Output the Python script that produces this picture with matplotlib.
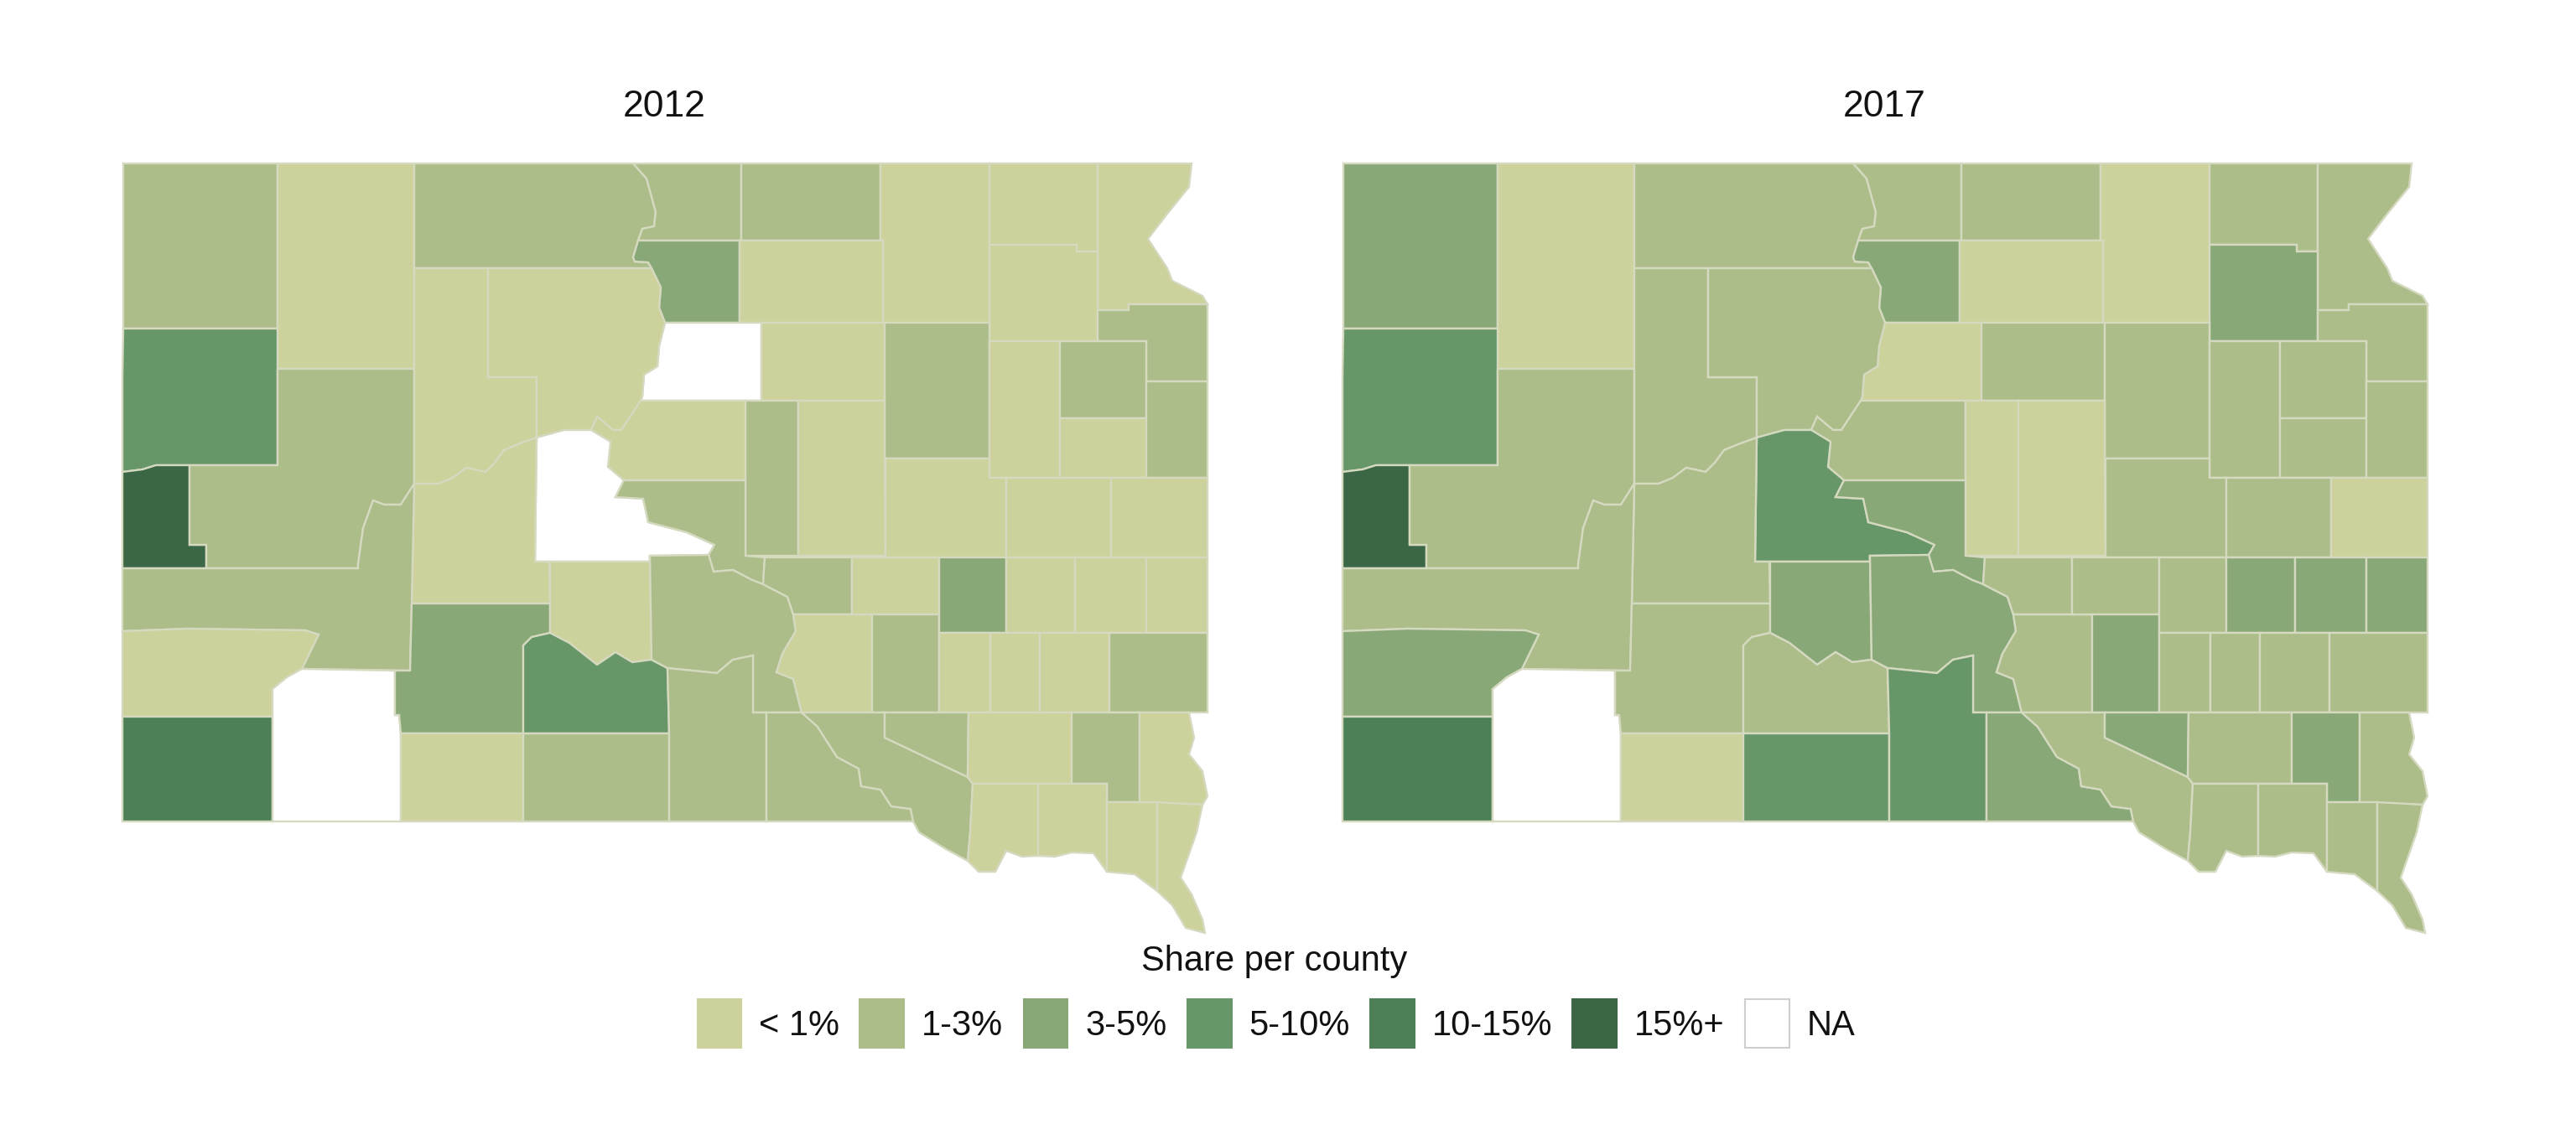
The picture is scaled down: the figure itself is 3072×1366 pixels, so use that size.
"""County share maps for South Dakota, 2012 and 2017."""
import matplotlib

matplotlib.use("Agg")
import matplotlib.pyplot as plt
from matplotlib.patches import Patch, Polygon

plt.rcParams["font.family"] = ["Liberation Sans", "DejaVu Sans"]

YEARS = ["2012", "2017"]
LEGEND_TITLE = "Share per county"
CLASSES = ["< 1%", "1-3%", "3-5%", "5-10%", "10-15%", "15%+", "NA"]
CLASS_COLOURS = ["#cdd19b", "#acbd8a", "#89a878", "#679669", "#4e8058", "#3b6746", "#ffffff"]
EDGE = "#d4d9bf"

# county outlines, in map units
OUTLINES = {
    "Harding": [(147, 195), (331, 195), (331, 392), (147, 392)],
    "Perkins": [(331, 195), (494, 195), (494, 440), (331, 440)],
    "Corson": [(494, 195), (755, 195), (771, 213), (782, 253), (780, 270), (766, 273), (761, 287), (755, 307), (757, 312), (773, 313), (777, 320), (494, 320)],
    "Campbell": [(755, 195), (884, 195), (884, 287), (761, 287), (766, 273), (780, 270), (782, 253), (771, 213)],
    "McPherson": [(884, 195), (1050, 195), (1050, 287), (884, 287)],
    "Brown": [(1050, 195), (1180, 195), (1180, 385), (1053, 385), (1053, 287), (1050, 287)],
    "Marshall": [(1180, 195), (1309, 195), (1309, 300), (1284, 300), (1284, 292), (1180, 292)],
    "Roberts": [(1309, 195), (1421, 195), (1418, 223), (1392, 255), (1369, 285), (1392, 320), (1398, 335), (1434, 353), (1440, 363), (1346, 363), (1346, 370), (1309, 370)],
    "Walworth": [(761, 287), (882, 287), (882, 385), (793, 385), (786, 367), (788, 343), (777, 320), (773, 313), (757, 312), (755, 307)],
    "Edmunds": [(882, 287), (1053, 287), (1053, 385), (882, 385)],
    "Day": [(1180, 292), (1284, 292), (1284, 300), (1309, 300), (1309, 407), (1180, 407)],
    "Grant": [(1309, 370), (1346, 370), (1346, 363), (1440, 363), (1440, 455), (1367, 455), (1367, 407), (1309, 407)],
    "Potter": [(793, 385), (908, 385), (908, 478), (764, 478), (766, 473), (768, 447), (784, 437), (786, 413)],
    "Faulk": [(908, 385), (1055, 385), (1055, 478), (908, 478)],
    "Spink": [(1055, 385), (1180, 385), (1180, 547), (1055, 547)],
    "Clark": [(1180, 407), (1264, 407), (1264, 570), (1180, 570)],
    "Codington": [(1264, 407), (1367, 407), (1367, 499), (1264, 499)],
    "Hamlin": [(1264, 499), (1367, 499), (1367, 570), (1264, 570)],
    "Deuel": [(1367, 455), (1440, 455), (1440, 570), (1367, 570)],
    "Butte": [(147, 392), (331, 392), (331, 555), (186, 555), (170, 560), (146, 563), (146, 450)],
    "Lawrence": [(146, 563), (170, 560), (186, 555), (226, 555), (226, 650), (246, 650), (246, 678), (146, 678)],
    "Meade": [(226, 555), (331, 555), (331, 440), (494, 440), (494, 577), (478, 602), (458, 602), (445, 597), (433, 630), (427, 673), (427, 678), (246, 678), (246, 650), (226, 650)],
    "Ziebach": [(494, 320), (582, 320), (582, 450), (640, 450), (640, 522), (618, 530), (601, 537), (590, 552), (579, 563), (556, 558), (540, 570), (523, 577), (494, 577)],
    "Dewey": [(582, 320), (777, 320), (788, 343), (786, 367), (793, 385), (786, 413), (784, 437), (768, 447), (766, 473), (764, 478), (741, 513), (731, 513), (712, 497), (705, 513), (673, 513), (640, 522), (640, 450), (582, 450)],
    "Sully": [(764, 478), (889, 478), (889, 573), (744, 573), (725, 557), (728, 527), (705, 513), (712, 497), (731, 513), (741, 513)],
    "Hyde": [(889, 478), (952, 478), (952, 663), (889, 663)],
    "Hand": [(952, 478), (1055, 478), (1055, 547), (1056, 663), (952, 663)],
    "Beadle": [(1056, 547), (1180, 547), (1180, 570), (1200, 570), (1200, 665), (1056, 665)],
    "Kingsbury": [(1200, 570), (1325, 570), (1325, 665), (1200, 665)],
    "Brookings": [(1325, 570), (1440, 570), (1440, 665), (1325, 665)],
    "Stanley": [(640, 522), (673, 513), (705, 513), (728, 527), (725, 557), (744, 573), (734, 593), (767, 595), (773, 623), (819, 635), (852, 650), (845, 662), (775, 663), (775, 670), (638, 670)],
    "Hughes": [(744, 573), (889, 573), (889, 663), (912, 665), (910, 697), (897, 692), (874, 680), (851, 682), (845, 662), (852, 650), (819, 635), (773, 623), (767, 595), (734, 593)],
    "Haakon": [(494, 577), (523, 577), (540, 570), (556, 558), (579, 563), (590, 552), (601, 537), (618, 530), (640, 522), (638, 670), (655, 670), (656, 720), (491, 720)],
    "Pennington": [(146, 678), (427, 678), (427, 673), (433, 630), (445, 597), (458, 602), (478, 602), (494, 577), (491, 720), (489, 800), (360, 798), (380, 757), (364, 752), (224, 750), (146, 753)],
    "Custer": [(146, 753), (224, 750), (364, 752), (380, 757), (360, 798), (342, 808), (325, 822), (325, 855), (146, 855)],
    "Fall River": [(146, 855), (325, 855), (325, 980), (146, 980)],
    "Oglala": [(360, 798), (471, 800), (471, 853), (476, 853), (478, 875), (478, 980), (325, 980), (325, 822), (342, 808)],
    "Jackson": [(491, 720), (656, 720), (656, 755), (634, 760), (624, 770), (624, 875), (478, 875), (476, 853), (471, 853), (471, 800), (489, 800)],
    "Bennett": [(478, 875), (624, 875), (624, 980), (478, 980)],
    "Jones": [(656, 670), (775, 670), (775, 663), (777, 787), (754, 790), (734, 778), (712, 793), (679, 767), (656, 755)],
    "Mellette": [(624, 770), (634, 760), (656, 755), (679, 767), (712, 793), (734, 778), (754, 790), (777, 787), (796, 797), (798, 875), (624, 875)],
    "Todd": [(624, 875), (798, 875), (798, 980), (624, 980)],
    "Lyman": [(775, 663), (845, 662), (851, 682), (874, 680), (897, 692), (910, 697), (939, 712), (946, 733), (949, 753), (933, 780), (926, 802), (946, 810), (956, 850), (898, 850), (898, 782), (874, 787), (855, 803), (796, 797), (777, 787)],
    "Tripp": [(796, 797), (855, 803), (874, 787), (898, 782), (898, 850), (914, 850), (914, 980), (798, 980), (798, 875)],
    "Gregory": [(914, 850), (956, 850), (975, 867), (998, 903), (1024, 917), (1027, 938), (1050, 942), (1063, 962), (1086, 965), (1089, 980), (914, 980)],
    "Buffalo": [(912, 665), (1016, 665), (1016, 733), (946, 733), (939, 712), (910, 697)],
    "Brule": [(946, 733), (1040, 733), (1040, 850), (956, 850), (946, 810), (926, 802), (933, 780), (949, 753)],
    "Jerauld": [(1016, 665), (1120, 665), (1120, 733), (1016, 733)],
    "Aurora": [(1040, 733), (1120, 733), (1120, 850), (1040, 850)],
    "Sanborn": [(1120, 665), (1200, 665), (1200, 755), (1120, 755)],
    "Miner": [(1200, 665), (1282, 665), (1282, 755), (1200, 755)],
    "Lake": [(1282, 665), (1367, 665), (1367, 755), (1282, 755)],
    "Moody": [(1367, 665), (1440, 665), (1440, 755), (1367, 755)],
    "Davison": [(1120, 755), (1181, 755), (1181, 850), (1120, 850)],
    "Hanson": [(1181, 755), (1240, 755), (1240, 850), (1181, 850)],
    "McCook": [(1240, 755), (1323, 755), (1323, 850), (1240, 850)],
    "Minnehaha": [(1323, 755), (1440, 755), (1440, 850), (1323, 850)],
    "Charles Mix": [(956, 850), (1055, 850), (1055, 880), (1154, 927), (1160, 935), (1157, 993), (1154, 1027), (1128, 1013), (1096, 993), (1089, 980), (1086, 965), (1063, 962), (1050, 942), (1027, 938), (1024, 917), (998, 903), (975, 867)],
    "Douglas": [(1055, 850), (1155, 850), (1154, 927), (1055, 880)],
    "Hutchinson": [(1155, 850), (1278, 850), (1278, 935), (1160, 935), (1154, 927)],
    "Turner": [(1278, 850), (1359, 850), (1359, 957), (1320, 957), (1320, 935), (1278, 935)],
    "Lincoln": [(1359, 850), (1418, 850), (1424, 880), (1418, 900), (1434, 920), (1440, 950), (1434, 960), (1359, 957)],
    "Bon Homme": [(1160, 935), (1238, 935), (1238, 1021), (1219, 1022), (1200, 1015), (1187, 1040), (1167, 1040), (1154, 1027), (1157, 993)],
    "Yankton": [(1238, 935), (1320, 935), (1320, 1040), (1304, 1018), (1278, 1017), (1258, 1022), (1238, 1021)],
    "Clay": [(1320, 957), (1380, 957), (1380, 1063), (1353, 1043), (1320, 1040)],
    "Union": [(1380, 957), (1434, 960), (1427, 993), (1408, 1047), (1421, 1067), (1434, 1097), (1437, 1113), (1414, 1107), (1398, 1080), (1380, 1063)],
}

# class per county, by year; counties not listed fall in "1-3%"
SHARE_2012 = {
    "< 1%": ["Perkins", "Brown", "Marshall", "Roberts", "Edmunds", "Day", "Faulk", "Clark", "Hamlin",
             "Ziebach", "Dewey", "Haakon", "Custer", "Bennett", "Jones", "Sully", "Hand", "Beadle",
             "Jerauld", "Miner", "Lake", "Moody", "Kingsbury", "Brookings", "Brule", "Davison", "Hanson",
             "McCook", "Hutchinson", "Lincoln", "Bon Homme", "Yankton", "Clay", "Union"],
    "3-5%": ["Walworth", "Jackson", "Sanborn"],
    "5-10%": ["Butte", "Mellette"],
    "10-15%": ["Fall River"],
    "15%+": ["Lawrence"],
    "NA": ["Potter", "Stanley", "Oglala"],
}
SHARE_2017 = {
    "< 1%": ["Perkins", "Brown", "Edmunds", "Potter", "Hyde", "Hand", "Brookings", "Bennett"],
    "3-5%": ["Harding", "Walworth", "Day", "Hughes", "Custer", "Jones", "Lyman", "Gregory", "Aurora",
             "Miner", "Lake", "Moody", "Douglas", "Turner"],
    "5-10%": ["Butte", "Stanley", "Todd", "Tripp"],
    "10-15%": ["Fall River"],
    "15%+": ["Lawrence"],
    "NA": ["Oglala"],
}


def draw_map(ax, shares, year):
    colours = dict(zip(CLASSES, CLASS_COLOURS))
    lookup = {name: cls for cls, names in shares.items() for name in names}
    for name, outline in OUTLINES.items():
        colour = colours[lookup.get(name, "1-3%")]
        ax.add_patch(Polygon(outline, closed=True, facecolor=colour, edgecolor=EDGE, linewidth=1.7))
    ax.set_xlim(136, 1448)
    ax.set_ylim(1120, 190)
    ax.set_title(year, fontsize=32, pad=37, color="#111111")
    ax.set_axis_off()


W, H = 3072, 1366
fig = plt.figure(figsize=(W / 100, H / 100), dpi=100, facecolor="white")
for left, shares, year in zip([136, 1591], [SHARE_2012, SHARE_2017], YEARS):
    ax = fig.add_axes([left / W, 1 - 1120 / H, 1312 / W, 930 / H])
    draw_map(ax, shares, year)

handles = [
    Patch(facecolor=c, edgecolor="#cfcfcf" if c == "#ffffff" else c, linewidth=1.5, label=label)
    for c, label in zip(CLASS_COLOURS, CLASSES)
]
fig.text(1520 / W, 1 - 1147 / H, LEGEND_TITLE, fontsize=30, ha="center", va="center", color="#111111")
fig.legend(
    handles=handles, ncol=7, loc="center", bbox_to_anchor=(1522 / W, 1 - 1221 / H),
    frameon=False, fontsize=30, handlelength=1.27, handleheight=1.73,
    handletextpad=0.5, columnspacing=0.58, labelcolor="#111111",
)

fig.savefig("out.png", dpi=100)
plt.close(fig)
